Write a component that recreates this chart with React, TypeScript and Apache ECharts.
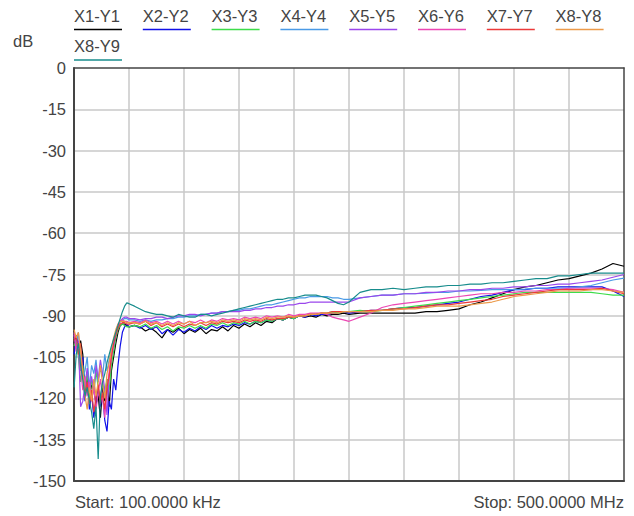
import React, { useEffect, useRef } from "react";
import * as echarts from "echarts";

// Sweep frequencies in MHz (100 kHz start, 500 MHz stop)
const FREQ_MHZ = [
  0.1, 2, 4, 6, 8, 10, 12, 14, 16, 18, 20, 22, 24, 26, 28, 30, 32, 34, 36, 38, 40, 42, 44, 46, 48, 50,
  55, 60, 65, 70, 75, 80, 85, 90, 95, 100, 105, 110, 115, 120, 125, 130, 135, 140, 145, 150,
  155, 160, 165, 170, 175, 180, 185, 190, 195, 200, 205, 210, 215, 220, 225, 230, 235, 240, 245,
  250, 260, 270, 280, 290, 300, 310, 320, 330, 340, 350, 360, 370,
  380, 390, 400, 410, 420, 430, 440, 450, 460, 470, 480, 490, 500,
];

const SERIES_NAMES = ["X1-Y1", "X2-Y2", "X3-Y3", "X4-Y4", "X5-Y5", "X6-Y6", "X7-Y7", "X8-Y8", "X8-Y9"];
const SERIES_COLORS = ["#000000", "#1010e8", "#3ddc4a", "#4a9ae6", "#9a46ec", "#ec46b4", "#ec3a3a", "#ec9a4a", "#178c8c"];

// Magnitudes in dB, one value per sweep frequency
const X1_Y1 = [
  -100, -97, -102, -99, -104, -118, -112, -120, -115, -117, -122, -119, -127, -116, -121, -113, -123, -110, -105, -100, -96, -93.5, -93, -93, -93.5, -94,
  -93.5, -94, -95.5, -94.5, -96, -98, -95, -96, -94.5, -96.5, -95, -96, -94.5, -96.5, -95, -95.5, -94, -95.5, -93.5, -94.5,
  -93, -94, -92.5, -93.5, -92, -92.5, -91, -91.5, -90.5, -91, -90, -90.5, -90, -90.5, -89.5, -90, -89.5, -89.5, -89,
  -89.5, -89, -89, -89, -89, -89, -89, -88.5, -88.5, -88, -87.5, -86, -85,
  -83.5, -82, -80.5, -79.5, -79, -78, -77, -76.5, -75.5, -74.5, -73, -71, -72,
];
const X2_Y2 = [
  -104, -98, -100, -110, -105, -121, -114, -124, -118, -127, -121, -116, -123, -118, -128, -132, -121, -124, -113, -117, -108, -101, -96, -94, -93, -94,
  -93.5, -94.5, -93.5, -95, -94, -96.5, -95, -97, -95, -96, -94.5, -95.5, -94, -95, -93.5, -94.5, -93.5, -94, -93, -93.5,
  -92.5, -93, -92, -92.5, -91.5, -92, -91, -91.5, -90.5, -91, -90, -90.5, -89.5, -90, -89.5, -89.5, -89, -89, -88.5,
  -89, -88.5, -88, -88, -87.5, -87, -87, -86.5, -86, -85.5, -85, -84, -83,
  -82.5, -81.5, -80.5, -80.5, -80, -80, -79.5, -79.5, -79.5, -79.5, -79.5, -81, -83,
];
const X3_Y3 = [
  -101, -99, -105, -114, -108, -117, -111, -120, -113, -118, -110, -116, -121, -114, -119, -113, -117, -108, -103, -98, -95, -93.5, -93, -93.5, -94, -94,
  -93.5, -94, -93, -94.5, -93.5, -95, -94, -95.5, -94, -94.5, -93.5, -94.5, -93.5, -94.5, -93, -93.5, -92.5, -93.5, -92.5, -93,
  -92, -93, -92, -92.5, -91.5, -92, -91, -91.5, -90.5, -91, -90, -90, -89.5, -89.5, -89, -89, -88.5, -89, -88.5,
  -88.5, -88, -88.5, -88, -87.5, -87, -86.5, -86, -85.5, -85, -84.5, -84, -83.5,
  -83, -82.5, -82, -81.5, -81.5, -81.5, -81.5, -81.5, -81.5, -81.5, -82, -82.5, -82.5,
];
const X4_Y4 = [
  -98, -100, -96, -107, -113, -110, -105, -116, -108, -111, -106, -114, -109, -112, -104, -110, -106, -102, -99, -96, -94, -92, -91.5, -91, -91, -91.5,
  -91.5, -92, -91.5, -92, -91.5, -91.5, -91, -91, -90.5, -90.5, -90, -90, -89.5, -89.5, -89, -89, -88.5, -88.5, -88, -88,
  -87.5, -87.5, -87, -86.5, -86, -86, -85.5, -85, -84.5, -84, -83.5, -83.5, -83, -83, -83, -83, -83.5, -83.5, -84,
  -84, -83.5, -83, -82.5, -82.5, -82, -82, -81.8, -81.5, -81.5, -81, -81, -80.8,
  -80.5, -80.5, -80.5, -80.3, -80, -80, -80, -80, -79.5, -79, -78, -77, -76.3,
];
const X5_Y5 = [
  -97, -102, -99, -123, -121, -115, -109, -117, -112, -118, -108, -113, -106, -111, -117, -126, -112, -105, -101, -97, -94, -92, -91, -90.5, -90.5, -91,
  -91, -91.5, -91, -91, -90.5, -90.5, -91, -90.5, -90, -90, -89.5, -89.5, -90, -89.5, -89, -89, -88.5, -88.5, -88.5, -88.5,
  -88, -88, -87.5, -87.5, -87, -87, -86.5, -86.5, -86, -86, -85.5, -85.5, -85, -85, -85, -85, -85, -85, -85,
  -85, -83.5, -83, -82.5, -82.5, -82, -82, -81.5, -81.5, -81, -81, -80.5, -80.5,
  -80, -80, -79.5, -79.5, -79, -79, -78.5, -78.5, -78, -77.5, -77, -76, -75,
];
const X6_Y6 = [
  -96, -103, -101, -109, -117, -112, -119, -114, -121, -116, -124, -118, -113, -120, -127, -117, -110, -104, -99, -96, -93, -92, -91.5, -92, -92, -92.5,
  -92, -92.5, -91.5, -92.5, -92, -93, -92, -93, -92, -93, -92, -92.5, -91.5, -92.5, -91.5, -92, -91, -91.5, -91, -91.5,
  -90.5, -91, -90.5, -91, -90, -90.5, -90, -90.5, -89.5, -90, -89.5, -89.5, -89, -89, -89, -89.5, -90.5, -91, -91.5,
  -92, -90.5, -89, -87, -86, -85.5, -85, -84.5, -84, -83.5, -83, -82.5, -82,
  -82, -81.5, -81.5, -81, -81, -80.5, -80.5, -80, -80, -80, -80, -80.5, -81.5,
];
const X7_Y7 = [
  -99, -97, -104, -100, -112, -119, -114, -122, -117, -125, -120, -115, -122, -118, -124, -116, -112, -105, -100, -97, -94.5, -93, -92.5, -92.5, -93, -93,
  -92.5, -93, -92, -93.5, -92.5, -94, -93, -94, -93, -94, -93, -93.5, -92.5, -93.5, -92.5, -93, -92, -92.5, -92, -92.5,
  -91.5, -92, -91.5, -92, -91, -91.5, -91, -91, -90.5, -90.5, -90, -90, -89.5, -89.5, -89, -89, -88.5, -88.5, -88.5,
  -88.5, -88.5, -88, -88, -87.5, -87.5, -87, -86.5, -86, -86, -85.5, -85, -84.5,
  -84, -83, -82.5, -82, -81.5, -81, -80.5, -80.5, -80.5, -80.5, -80, -81, -82,
];
const X8_Y8 = [
  -95, -98, -96, -103, -110, -119, -124, -116, -121, -113, -119, -114, -108, -115, -120, -111, -107, -102, -98, -95, -93, -92, -92, -92, -92.5, -92.5,
  -92.5, -93, -92, -93, -92.5, -93.5, -92.5, -93.5, -92.5, -93, -92, -93.5, -92.5, -92.5, -92, -92.5, -91.5, -92, -91.5, -92,
  -91, -91.5, -91, -91.5, -90.5, -91, -90.5, -90.5, -90, -90.5, -90, -90, -89.5, -89.5, -89, -89, -89, -89, -88.5,
  -88.5, -88.5, -88.5, -88, -88, -87.5, -87.5, -87, -86.5, -86.5, -86.5, -86, -85.5,
  -85, -84, -83, -82.5, -82, -81.5, -81, -81, -81, -80.5, -80.5, -81, -81.5,
];
const X8_Y9 = [
  -116, -104, -100, -108, -113, -119, -116, -121, -125, -131, -123, -142, -119, -114, -111, -107, -104, -101, -98.5, -96, -93.5, -91, -88.5, -86.5, -85.3, -85.6,
  -86.5, -87.5, -88.5, -89, -89.5, -89.5, -90, -90.5, -89.5, -90, -90.5, -90.5, -89.5, -89.5, -90, -89.5, -89, -88.5, -88, -87.5,
  -87, -86.5, -86, -85.5, -85, -84.5, -84, -84, -83.5, -83.5, -83, -82.5, -82.5, -82.5, -83, -83.5, -84.5, -85.5, -86,
  -85, -81.5, -80.5, -80.5, -80, -80.5, -80, -79.5, -79.5, -79, -79, -78.5, -78.5,
  -78, -78, -77.5, -77, -76.5, -76.5, -75.5, -75.5, -75, -74.5, -74.5, -74.5, -74.5,
];

const SERIES_VALUES = [X1_Y1, X2_Y2, X3_Y3, X4_Y4, X5_Y5, X6_Y6, X7_Y7, X8_Y8, X8_Y9];

const Y_MIN = -150;
const Y_MAX = 0;
const Y_STEP = 15;
const X_MIN = 0;
const X_MAX = 500;
const X_STEP = 50;

const Y_UNIT = "dB";
const START_LABEL = "Start: 100.0000 kHz";
const STOP_LABEL = "Stop: 500.0000 MHz";

const FONT_FAMILY = "'Liberation Sans', Arial, Helvetica, sans-serif";
const FONT_SIZE = 16.5;
const TEXT_COLOR = "#444444";
const GRID_COLOR = "#c8c8c8";
const FRAME_COLOR = "#444444";

const PLOT = { left: 74, top: 68, width: 550, height: 413 };

export default function App() {
  const ref = useRef<HTMLDivElement>(null);

  useEffect(() => {
    if (!ref.current) return;
    const chart = echarts.init(ref.current, null, { renderer: "svg" });
    const font = `${FONT_SIZE}px ${FONT_FAMILY}`;

    // Legend: label text with a coloured underline, eight entries per row
    const legendItems: any[] = [];
    SERIES_NAMES.forEach((name, i) => {
      const row = Math.floor(i / 8);
      const col = i % 8;
      const x = 74 + col * 68.8;
      const y = 15.5 + row * 30.5;
      legendItems.push({
        type: "text",
        x,
        y,
        silent: true,
        style: { text: name, font, fill: TEXT_COLOR, align: "left", verticalAlign: "middle" },
      });
      legendItems.push({
        type: "line",
        silent: true,
        shape: { x1: x, y1: y + 14, x2: x + 48, y2: y + 14 },
        style: { stroke: SERIES_COLORS[i], lineWidth: 1.5 },
      });
    });

    const plotRight = PLOT.left + PLOT.width;
    const plotBottom = PLOT.top + PLOT.height;

    const option: any = {
      animation: false,
      backgroundColor: "#ffffff",
      grid: { left: PLOT.left, top: PLOT.top, width: PLOT.width, height: PLOT.height, containLabel: false },
      xAxis: [
        {
          type: "value",
          min: X_MIN,
          max: X_MAX,
          interval: X_STEP,
          position: "bottom",
          axisLine: { show: true, onZero: false, lineStyle: { color: FRAME_COLOR, width: 2 } },
          axisTick: { show: false },
          axisLabel: { show: false },
          splitLine: { show: true, showMinLine: false, showMaxLine: false, lineStyle: { color: GRID_COLOR, width: 1.5 } },
        },
        {
          type: "value",
          min: X_MIN,
          max: X_MAX,
          position: "top",
          axisLine: { show: true, onZero: false, lineStyle: { color: FRAME_COLOR, width: 1.5 } },
          axisTick: { show: false },
          axisLabel: { show: false },
          splitLine: { show: false },
        },
      ],
      yAxis: [
        {
          type: "value",
          min: Y_MIN,
          max: Y_MAX,
          interval: Y_STEP,
          position: "left",
          axisLine: { show: true, onZero: false, lineStyle: { color: FRAME_COLOR, width: 2 } },
          axisTick: { show: false },
          axisLabel: { color: TEXT_COLOR, fontSize: FONT_SIZE, fontFamily: FONT_FAMILY, margin: 8 },
          splitLine: { show: true, showMinLine: false, showMaxLine: false, lineStyle: { color: GRID_COLOR, width: 1.5 } },
        },
        {
          type: "value",
          min: Y_MIN,
          max: Y_MAX,
          position: "right",
          axisLine: { show: true, onZero: false, lineStyle: { color: FRAME_COLOR, width: 1.5 } },
          axisTick: { show: false },
          axisLabel: { show: false },
          splitLine: { show: false },
        },
      ],
      series: SERIES_NAMES.map((name, i) => ({
        name,
        type: "line",
        xAxisIndex: 0,
        yAxisIndex: 0,
        showSymbol: false,
        symbol: "none",
        silent: true,
        lineStyle: { color: SERIES_COLORS[i], width: 1.2 },
        itemStyle: { color: SERIES_COLORS[i] },
        data: FREQ_MHZ.map((f, k) => [f, SERIES_VALUES[i][k]]),
      })),
      graphic: [
        ...legendItems,
        {
          type: "text",
          x: 13,
          y: 41,
          silent: true,
          style: { text: Y_UNIT, font, fill: TEXT_COLOR, align: "left", verticalAlign: "middle" },
        },
        {
          type: "text",
          x: PLOT.left + 1,
          y: plotBottom + 20.5,
          silent: true,
          style: { text: START_LABEL, font, fill: TEXT_COLOR, align: "left", verticalAlign: "middle" },
        },
        {
          type: "text",
          x: plotRight,
          y: plotBottom + 20.5,
          silent: true,
          style: { text: STOP_LABEL, font, fill: TEXT_COLOR, align: "right", verticalAlign: "middle" },
        },
      ],
    };

    chart.setOption(option);
    return () => chart.dispose();
  }, []);

  return (
    <div
      ref={ref}
      style={{ position: "fixed", left: 0, top: 0, width: 634, height: 516, background: "#ffffff" }}
    />
  );
}
